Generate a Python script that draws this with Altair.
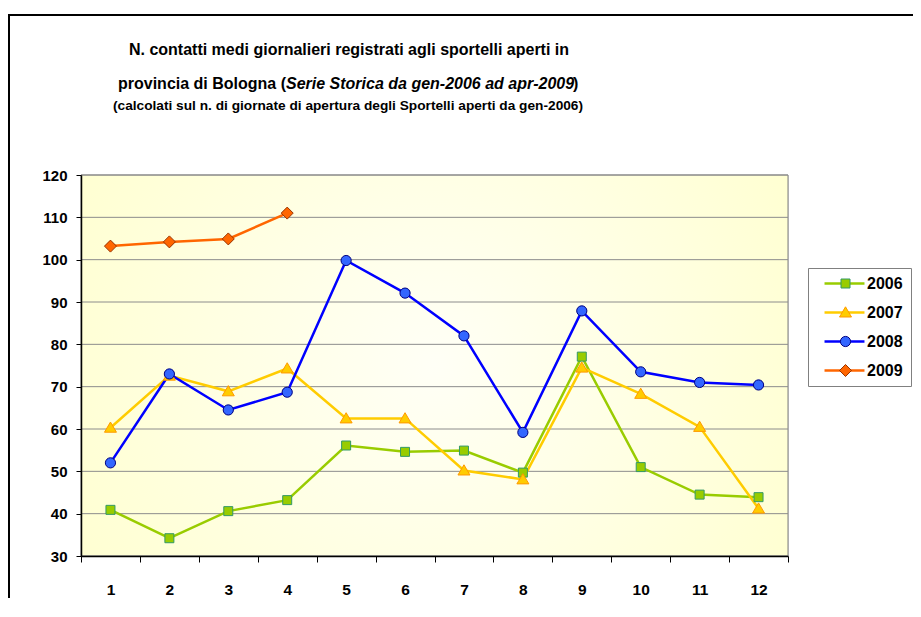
import altair as alt
import pandas as pd

# ---------------- data ----------------
months = list(range(1, 13))
years = ["2006", "2007", "2008", "2009"]
v2006 = [40.9, 34.2, 40.6, 43.2, 56.1, 54.6, 54.9, 49.7, 77.1, 51.0, 44.5, 43.9]
v2007 = [60.3, 72.6, 68.9, 74.3, 62.5, 62.5, 50.2, 48.1, 74.5, 68.3, 60.5, 41.2]
v2008 = [52.0, 73.0, 64.5, 68.7, 99.8, 92.1, 82.0, 59.2, 87.9, 73.5, 71.0, 70.4]
v2009 = [103.2, 104.2, 104.9, 111.0]
y_ticks = [30, 40, 50, 60, 70, 80, 90, 100, 110, 120]

title_line1 = "N. contatti medi giornalieri registrati agli sportelli aperti in"
title_line2a = "provincia di Bologna ("
title_line2b = "Serie Storica da gen-2006 ad apr-2009"
title_line2c = ")"
title_line3 = "(calcolati sul n. di giornate di apertura degli Sportelli aperti da gen-2006)"

# ---------------- styles ----------------
line_colors = ["#99CC00", "#FFCC00", "#0000FF", "#FF6600"]
fill_colors = ["#99CC00", "#FFCC00", "#3366FF", "#FF6600"]
outline_colors = ["#339966", "#FF9900", "#000080", "#993300"]
shape_paths = [
    "M-0.75,-0.75H0.75V0.75H-0.75Z",
    "M0,-0.95L1,0.75H-1Z",
    "M-0.85,0A0.85,0.85,0,1,0,0.85,0A0.85,0.85,0,1,0,-0.85,0Z",
    "M0,-1L1,0L0,1L-1,0Z",
]
line_symbol = "M-3.33,0H3.33"
FONT = "Liberation Sans, Arial, sans-serif"

rows = []
for yr, vals in zip(years, [v2006, v2007, v2008, v2009]):
    for m, v in zip(months, vals):
        rows.append({"month": m, "value": v, "year": yr, "yr": yr})
df = pd.DataFrame(rows)

W, H = 707, 381

x_enc = alt.X(
    "month:O",
    bandPosition=0.5,
    scale=alt.Scale(type="band", paddingInner=0, paddingOuter=0),
    axis=alt.Axis(
        title=None, labelAngle=0, tickBand="extent", grid=False,
        labelFont=FONT, labelFontSize=15.5, labelFontWeight="bold", labelColor="black",
        tickColor="black", tickSize=6, domainColor="black", domainWidth=1.5,
        labelPadding=20, zindex=1,
    ),
)
y_enc = alt.Y(
    "value:Q",
    scale=alt.Scale(domain=[30, 120], nice=False, zero=False),
    axis=alt.Axis(
        title=None, values=y_ticks, grid=False,
        labelFont=FONT, labelFontSize=15, labelFontWeight="bold", labelColor="black",
        tickColor="black", tickSize=5, domainColor="black", domainWidth=1.5,
        labelPadding=9, zindex=1,
    ),
)

legend_common = dict(
    title=None, orient="none", legendX=727, legendY=93,
    symbolSize=144, labelFont=FONT, labelFontSize=16, labelFontWeight="bold",
    labelColor="black", padding=7.5, rowPadding=13, labelOffset=14.5,
)
legA = alt.Legend(symbolType=line_symbol, symbolStrokeWidth=2.5, symbolOffset=21,
                  fillColor="white", strokeColor="#808080", **legend_common)
legB = alt.Legend(symbolStrokeWidth=1, symbolOffset=22, labelOpacity=0, **legend_common)

one = pd.DataFrame({"k": [0]})

bg = alt.Chart(one).mark_rect(
    fill={
        "gradient": "radial",
        "x1": 0.5, "y1": 0.5, "x2": 0.5, "y2": 0.5, "r1": 0, "r2": 0.75,
        "stops": [{"offset": 0, "color": "#FFFFF6"}, {"offset": 1, "color": "#FFFFC6"}],
    },
    stroke="#808080", strokeWidth=1,
).encode(x=alt.value(0), x2=alt.value("width"), y=alt.value(0), y2=alt.value("height"))

grid = alt.Chart(pd.DataFrame({"value": y_ticks})).mark_rule(
    color="#8C8C8C", strokeWidth=1
).encode(y=y_enc)

lines = alt.Chart(df).mark_line(strokeWidth=2.5).encode(
    x=x_enc, y=y_enc,
    color=alt.Color("year:N", scale=alt.Scale(range=line_colors), legend=legA),
    detail="year:N",
)

points = alt.Chart(df).mark_point(filled=True, size=144, opacity=1, strokeWidth=1).encode(
    x=x_enc, y=y_enc,
    fill=alt.Fill("yr:N", scale=alt.Scale(range=fill_colors), legend=legB),
    stroke=alt.Stroke("yr:N", scale=alt.Scale(range=outline_colors), legend=legB),
    shape=alt.Shape("yr:N", scale=alt.Scale(range=shape_paths), legend=legB),
)

def txt(s, x, y, size, align="center", style="normal"):
    return alt.Chart(pd.DataFrame({"t": [s]})).mark_text(
        font=FONT, fontSize=size, fontWeight="bold", fontStyle=style,
        align=align, color="black",
    ).encode(text="t:N", x=alt.value(x), y=alt.value(y))

t1 = txt(title_line1, 268, -125, 16)
t2a = txt(title_line2a, 205, -91, 16, align="right")
t2b = txt(title_line2b, 205, -91, 16, align="left", style="italic")
t2c = txt(title_line2c, 492, -91, 16, align="left")
t3 = txt(title_line3, 267, -69, 13.7)

border = alt.Chart(one).mark_rect(fill="transparent", stroke="black", strokeWidth=2).encode(
    x=alt.value(-72), x2=alt.value(1000), y=alt.value(-160), y2=alt.value(1000)
)

chart = alt.layer(bg, grid, lines, points, t1, t2a, t2b, t2c, t3, border).properties(
    width=W, height=H,
    autosize="none",
    padding={"left": 73, "top": 167, "right": 125, "bottom": 42},
).configure_view(stroke=None).configure(background="white")

chart.save("out.html", embed_options={"renderer": "svg", "actions": False})
